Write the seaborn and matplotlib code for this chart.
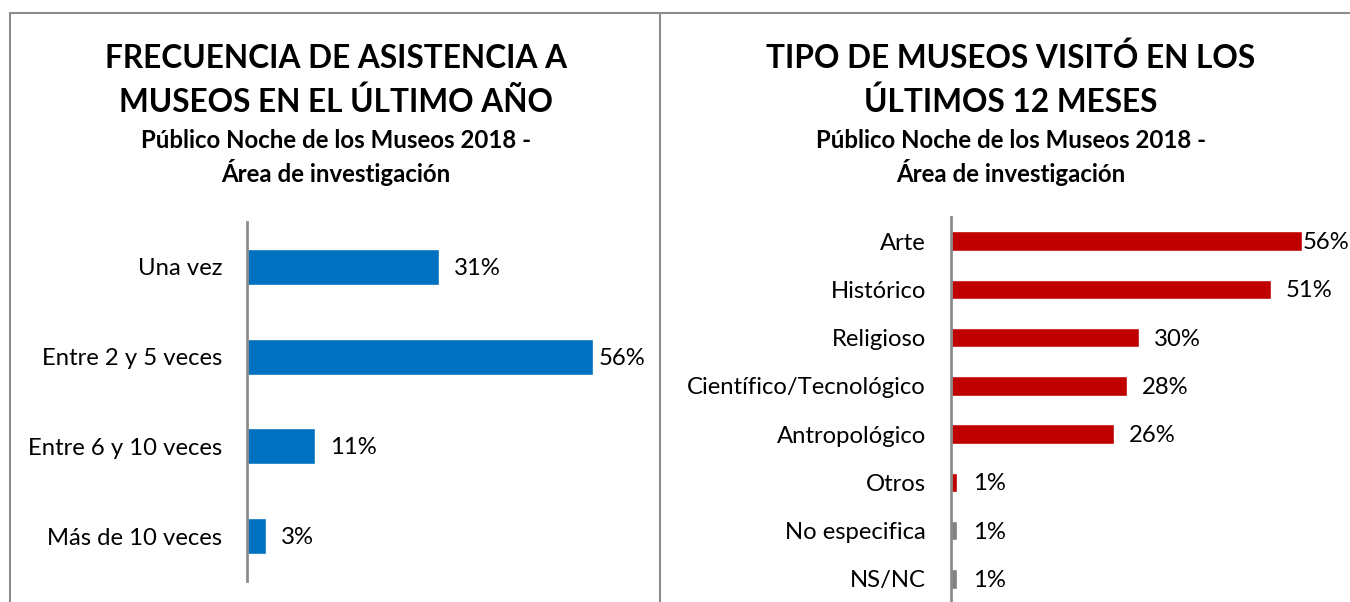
import numpy as np
import pandas as pd
import matplotlib
matplotlib.use("Agg")
import matplotlib.pyplot as plt
from matplotlib.lines import Line2D
import seaborn as sns

# data
freq_cats = ["Una vez", "Entre 2 y 5 veces", "Entre 6 y 10 veces", "Más de 10 veces"]
freq_vals = [31, 56, 11, 3]

tipo_cats = ["Arte", "Histórico", "Religioso", "Científico/Tecnológico",
             "Antropológico", "Otros", "No especifica", "NS/NC"]
tipo_vals = [56, 51, 30, 28, 26, 1, 1, 1]

BLUE = "#0070C0"
RED = "#C00000"
GRAY = "#808080"
tipo_colors = [RED] * 6 + [GRAY] * 2

sns.set_style("white")
plt.rcParams["font.family"] = ["Lato", "DejaVu Sans"]
plt.rcParams["text.color"] = "#000000"

W, H = 1350, 602
LABEL_FS = 17.2
fig = plt.figure(figsize=(W / 100, H / 100), dpi=100)


def px_box(x0, y0, x1, y1):
    return [x0 / W, 1 - y1 / H, (x1 - x0) / W, (y1 - y0) / H]


def draw_panel(ax, cats, vals, colors, lab_pad):
    df = pd.DataFrame({"cat": cats, "val": vals})
    sns.barplot(data=df, x="val", y="cat", hue="cat", palette=colors,
                orient="h", width=0.4, legend=False, ax=ax, saturation=1)
    ax.set_xlim(0, 60)
    ax.set_ylim(len(cats) - 0.5, -0.5)
    ax.set_xlabel("")
    ax.set_ylabel("")
    ax.set_xticks([])
    for s in ["top", "right", "bottom"]:
        ax.spines[s].set_visible(False)
    ax.spines["left"].set_color("#8c8c8c")
    ax.spines["left"].set_linewidth(2)
    ax.tick_params(axis="y", length=0, pad=lab_pad, labelsize=LABEL_FS, labelcolor="#000000")
    return df


ax1 = fig.add_axes(px_box(247, 222, 247 + 60 * 6.18, 581))
draw_panel(ax1, freq_cats, freq_vals, [BLUE] * 4, 18)
ax2 = fig.add_axes(px_box(951, 217, 951 + 60 * 6.27, 603))
draw_panel(ax2, tipo_cats, tipo_vals, tipo_colors, 18)

# value labels, kept inside each panel's right edge (px)
texts = []
for ax, vals, edge in [(ax1, freq_vals, 645), (ax2, tipo_vals, W - 1)]:
    for i, v in enumerate(vals):
        t = ax.annotate(f"{v}%", (v, i), xytext=(11, -1), textcoords="offset points",
                        va="center", ha="left", fontsize=LABEL_FS, color="#000000")
        texts.append((t, edge))

fig.canvas.draw()
r = fig.canvas.get_renderer()
for t, edge in texts:
    bb = t.get_window_extent(r)
    if bb.x1 > edge:
        dx = (bb.x1 - edge) * 72 / 100
        ox, oy = t.xyann
        t.xyann = (ox - dx, oy)

# titles
for cx, lines in [(336, ["FRECUENCIA DE ASISTENCIA A", "MUSEOS EN EL ÚLTIMO AÑO"]),
                  (1011, ["TIPO DE MUSEOS VISITÓ EN LOS", "ÚLTIMOS 12 MESES"])]:
    fig.text(cx / W, 1 - 58 / H, lines[0], ha="center", va="center",
             fontsize=22.8, fontweight="bold")
    fig.text(cx / W, 1 - 102 / H, lines[1], ha="center", va="center",
             fontsize=22.8, fontweight="bold")
    fig.text(cx / W, 1 - 141 / H, "Público Noche de los Museos 2018 -", ha="center",
             va="center", fontsize=17.3, fontweight="bold")
    fig.text(cx / W, 1 - 173 / H, "Área de investigación", ha="center",
             va="center", fontsize=17.3, fontweight="bold")

# frame lines
bc = "#8c8c8c"
fig.add_artist(Line2D([10 / W, 1], [1 - 13 / H] * 2, color=bc, lw=1.5))
fig.add_artist(Line2D([10 / W] * 2, [0, 1 - 13 / H], color=bc, lw=1.5))
fig.add_artist(Line2D([660 / W] * 2, [0, 1 - 13 / H], color=bc, lw=1.5))

fig.savefig("out.png", dpi=100)
